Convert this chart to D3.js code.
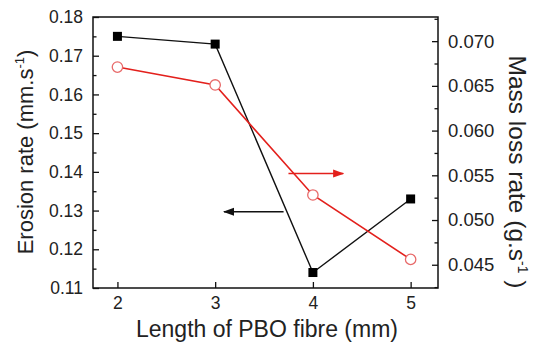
<!DOCTYPE html>
<html><head><meta charset="utf-8">
<script src="https://cdn.jsdelivr.net/npm/d3@7"></script>
<style>body{margin:0;background:#fff}svg{display:block}text{font-family:"Liberation Sans",Arial,sans-serif;fill:#222}</style>
</head><body>
<script>
const lengths = [2, 3, 4, 5];
const erosionRate = [0.175, 0.173, 0.114, 0.133];
const massLossRate = [0.0671, 0.0651, 0.0528, 0.0456];
const xTicks = [2, 3, 4, 5];
const leftTicks = [0.11, 0.12, 0.13, 0.14, 0.15, 0.16, 0.17, 0.18];
const rightTicks = [0.045, 0.050, 0.055, 0.060, 0.065, 0.070];

const W = 541, H = 342;
const m = {l: 93, r: 103, t: 17, b: 54};
const svg = d3.select("body").append("svg").attr("width", W).attr("height", H);
const x = d3.scaleLinear().domain([1.75, 5.28]).range([m.l, W - m.r]);
const yL = d3.scaleLinear().domain([0.11, 0.18]).range([H - m.b, m.t]);
const yR = d3.scaleLinear().domain([0.0424, 0.0727]).range([H - m.b, m.t]);

const defs = svg.append("defs");
function marker(id, color) {
  defs.append("marker").attr("id", id).attr("viewBox", "0 0 10 10").attr("refX", 9).attr("refY", 5)
    .attr("markerWidth", 7).attr("markerHeight", 7).attr("orient", "auto-start-reverse")
    .append("path").attr("d", "M0,1.5 L10,5 L0,8.5 Z").attr("fill", color);
}
marker("ab", "#111"); marker("ar", "#e3201c");

// axes
const gx = svg.append("g").attr("transform", `translate(0,${H - m.b})`)
  .call(d3.axisBottom(x).tickValues(xTicks).tickFormat(d3.format("d")).tickSizeInner(-6).tickSizeOuter(0).tickPadding(9));
const gl = svg.append("g").attr("transform", `translate(${m.l},0)`)
  .call(d3.axisLeft(yL).tickValues(leftTicks).tickFormat(d3.format(".2f")).tickSizeInner(-6).tickSizeOuter(0).tickPadding(10));
svg.append("g").attr("transform", `translate(${m.l},0)`)
  .call(d3.axisLeft(yL).tickValues(d3.range(0.115, 0.18, 0.01)).tickFormat("").tickSizeInner(-3.5).tickSizeOuter(0));
const gr = svg.append("g").attr("transform", `translate(${W - m.r},0)`)
  .call(d3.axisRight(yR).tickValues(rightTicks).tickFormat(d3.format(".3f")).tickSizeInner(-6).tickSizeOuter(0).tickPadding(10));
svg.append("g").attr("transform", `translate(${W - m.r},0)`)
  .call(d3.axisRight(yR).tickValues([0.0425, 0.0475, 0.0525, 0.0575, 0.0625, 0.0675, 0.0725]).tickFormat("").tickSizeInner(-3.5).tickSizeOuter(0));
svg.selectAll(".domain").remove();
svg.selectAll(".tick line").attr("stroke", "#111").attr("stroke-width", 1.3);
svg.selectAll(".tick text").attr("fill", "#222");
gx.selectAll(".tick text").style("font-size", "17.5px");
gl.selectAll(".tick text").style("font-size", "17.5px");
gr.selectAll(".tick text").style("font-size", "18.5px");

// frame
svg.append("rect").attr("x", m.l).attr("y", m.t).attr("width", W - m.r - m.l).attr("height", H - m.b - m.t)
  .attr("fill", "none").attr("stroke", "#111").attr("stroke-width", 1.5);

// lines
const idx = d3.range(lengths.length);
svg.append("path").datum(idx).attr("fill", "none").attr("stroke", "#111").attr("stroke-width", 1.4)
  .attr("d", d3.line().x(i => x(lengths[i])).y(i => yL(erosionRate[i])));
svg.append("path").datum(idx).attr("fill", "none").attr("stroke", "#e3201c").attr("stroke-width", 1.6)
  .attr("d", d3.line().x(i => x(lengths[i])).y(i => yR(massLossRate[i])));

svg.selectAll(".sq").data(idx).join("rect").attr("class", "sq")
  .attr("x", i => x(lengths[i]) - 4.5).attr("y", i => yL(erosionRate[i]) - 4.5)
  .attr("width", 9).attr("height", 9).attr("fill", "#000");
svg.selectAll(".ci").data(idx).join("circle").attr("class", "ci")
  .attr("cx", i => x(lengths[i])).attr("cy", i => yR(massLossRate[i])).attr("r", 5.2)
  .attr("fill", "#fff").attr("stroke", "#e86a6a").attr("stroke-width", 1.3);

// arrows
svg.append("line").attr("x1", x(3.75)).attr("x2", x(4.31)).attr("y1", yR(0.0552)).attr("y2", yR(0.0552))
  .attr("stroke", "#e3201c").attr("stroke-width", 1.6).attr("marker-end", "url(#ar)");
svg.append("line").attr("x1", x(3.70)).attr("x2", x(3.09)).attr("y1", yL(0.1297)).attr("y2", yL(0.1297))
  .attr("stroke", "#111").attr("stroke-width", 1.6).attr("marker-end", "url(#ab)");

// titles
svg.append("text").attr("x", 267).attr("y", 337).attr("text-anchor", "middle")
  .style("font-size", "23px").text("Length of PBO fibre (mm)");
const lt = svg.append("text").attr("transform", `translate(33,152) rotate(-90)`)
  .attr("text-anchor", "middle").style("font-size", "22px");
lt.append("tspan").text("Erosion rate (mm.s");
lt.append("tspan").attr("dy", -9).style("font-size", "13px").text("-1");
lt.append("tspan").attr("dy", 9).text(")");
const rt = svg.append("text").attr("transform", `translate(509,172) rotate(90)`)
  .attr("text-anchor", "middle").style("font-size", "24.5px");
rt.append("tspan").text("Mass loss rate (g.s");
rt.append("tspan").attr("dy", -9).style("font-size", "14px").text("-1");
rt.append("tspan").attr("dy", 9).text(" )");
</script>
</body></html>
